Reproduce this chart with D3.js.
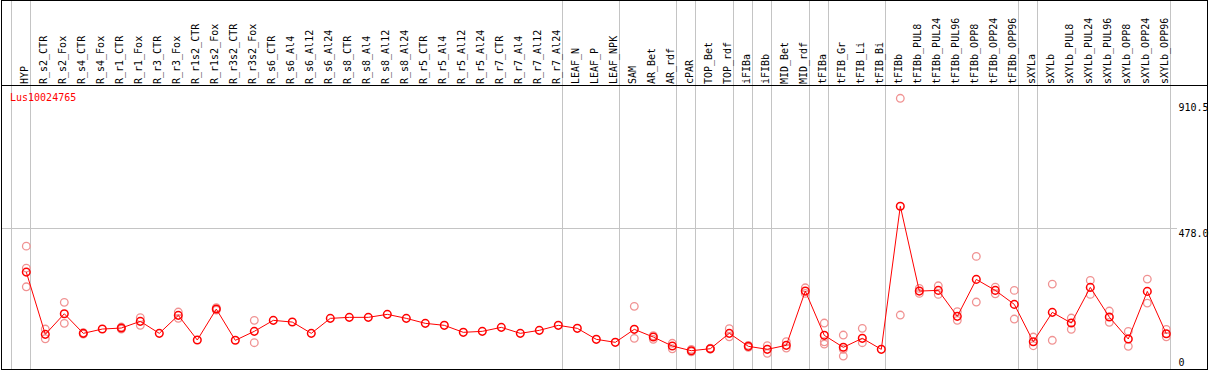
<!DOCTYPE html>
<html>
<head>
<meta charset="utf-8">
<script src="https://cdn.jsdelivr.net/npm/d3@7"></script>
<style>
  html, body { margin: 0; padding: 0; background: #fff; }
  svg { display: block; }
  text { font-family: "DejaVu Sans Mono", monospace; font-size: 10px; }
</style>
</head>
<body>
<svg id="chart" width="1209" height="370"></svg>
<script>
const geneName = "Lus10024765";

const categories = [
  "HYP","R_s2_CTR","R_s2_Fox","R_s4_CTR","R_s4_Fox","R_r1_CTR","R_r1_Fox","R_r3_CTR","R_r3_Fox",
  "R_r1s2_CTR","R_r1s2_Fox","R_r3s2_CTR","R_r3s2_Fox","R_s6_CTR","R_s6_Al4","R_s6_Al12","R_s6_Al24",
  "R_s8_CTR","R_s8_Al4","R_s8_Al12","R_s8_Al24","R_r5_CTR","R_r5_Al4","R_r5_Al12","R_r5_Al24",
  "R_r7_CTR","R_r7_Al4","R_r7_Al12","R_r7_Al24","LEAF_N","LEAF_P","LEAF_NPK","SAM","AR_Bet","AR_rdf",
  "cPAR","TOP_Bet","TOP_rdf","iFIBa","iFIBb","MID_Bet","MID_rdf","tFIBa","tFIB_Gr","tFIB_Li","tFIB_Bi",
  "tFIBb","tFIBb_PUL8","tFIBb_PUL24","tFIBb_PUL96","tFIBb_OPP8","tFIBb_OPP24","tFIBb_OPP96",
  "sXYLa","sXYLb","sXYLb_PUL8","sXYLb_PUL24","sXYLb_PUL96","sXYLb_OPP8","sXYLb_OPP24","sXYLb_OPP96"
];

// last category of each group (a grey separator follows it)
const groupEnds = ["HYP","R_r7_Al24","LEAF_NPK","AR_rdf","cPAR","TOP_rdf","iFIBa","iFIBb","MID_rdf",
  "tFIBa","tFIB_Bi","tFIBb_OPP96","sXYLa","sXYLb_OPP96"];

const means = [
  331.7,124.4,193.0,127.7,142.0,145.4,167.7,127.7,187.6,
  105.5,208.6,104.5,134.4,171.0,165.3,127.7,177.6,
  181.0,181.0,191.0,177.6,161.0,154.4,131.1,134.4,
  147.7,127.7,137.7,154.4,144.4,107.8,97.8,141.1,115.4,85.5,
  69.9,76.5,127.7,84.5,74.5,87.8,268.5,121.1,81.2,111.1,74.5,
  551.2,268.5,270.8,184.3,307.4,270.8,224.2,
  99.8,197.6,162.0,280.8,182.0,108.8,267.5,126.4
];

const replicates = [
  [418.2,345.0,282.8],[142.0,109.8],[230.9,161.0],[129.7,125.4],[],[148.7,142.0],[179.6,154.4],[],[198.6,177.6],
  [],[212.9,205.3],[],[171.0,96.5],[],[],[],[],
  [],[],[],[],[],[],[],[],
  [],[],[],[],[],[],[],[217.6,111.1],[119.8,107.8],[94.5,76.5],
  [74.5,66.5],[78.0,75.0],[143.1,116.4],[87.8,81.2],[86.5,61.2],[99.8,78.8],[279.4,260.8],[162.0,99.8,92.1],[122.1,74.5,52.2],[144.4,96.5],[],
  [910.5,188.6],[277.4,260.8],[286.1,257.5],[199.6,171.0],[383.9,231.9],[281.8,259.5],[270.8,175.3],
  [115.4,86.5],[291.8,104.5],[178.6,141.1],[304.1,257.5],[201.9,164.3],[134.4,84.5],[308.4,228.5],[141.1,116.4]
];

const tickValues = [0, 478.0, 910.5];
const gridValues = [478.0];

const svg = d3.select("#chart");
const W = 1209, H = 370;
const headerBottom = 85.5;

const x = d3.scaleBand().domain(categories).range([11.5, 11.5 + 19 * categories.length]);
const px = c => x(c) + 14.8;
const y = d3.scaleLinear().domain([0, 910.5]).range([371.7, 98.3]);

svg.append("rect").attr("width", W).attr("height", H).attr("fill", "#fff");

const grey = "#c4c4c4";

// vertical group separators
const seps = [x(categories[0])].concat(groupEnds.map(c => x(c) + x.bandwidth()));
svg.append("g").selectAll("line").data(seps).join("line")
  .attr("x1", d => d).attr("x2", d => d)
  .attr("y1", 0).attr("y2", H)
  .attr("stroke", grey).attr("stroke-width", 1);

// horizontal gridline
svg.append("g").selectAll("line").data(gridValues).join("line")
  .attr("x1", 1).attr("x2", 1177)
  .attr("y1", d => Math.round(y(d)) + 0.5).attr("y2", d => Math.round(y(d)) + 0.5)
  .attr("stroke", grey).attr("stroke-width", 1);

// header labels
svg.append("g").selectAll("text").data(categories).join("text")
  .attr("transform", c => `translate(${px(c) + 1.8},84) rotate(-90)`)
  .attr("text-anchor", "start")
  .attr("fill", "#000")
  .text(c => c);

// gene name
svg.append("text").attr("x", 10).attr("y", 100.5).attr("fill", "#ff0000").text(geneName);

// axis labels (right)
svg.append("g").selectAll("text").data(tickValues).join("text")
  .attr("x", 1178.5)
  .attr("y", d => Math.max(111.3, Math.min(365.5, y(d) + 8.5)))
  .attr("fill", "#000")
  .text(d => d === 0 ? "0" : d.toFixed(1));

// replicate points
const repPts = [];
categories.forEach((c, i) => replicates[i].forEach(v => repPts.push({c, v})));
svg.append("g").selectAll("circle").data(repPts).join("circle")
  .attr("cx", d => px(d.c)).attr("cy", d => y(d.v)).attr("r", 3.8)
  .attr("fill", "none").attr("stroke", "#f09292").attr("stroke-width", 1.3);

// mean line
const line = d3.line().x((d, i) => px(categories[i])).y(d => y(d));
svg.append("path").datum(means).attr("d", line)
  .attr("fill", "none").attr("stroke", "#ff0000").attr("stroke-width", 1);

// mean markers
svg.append("g").selectAll("circle").data(means).join("circle")
  .attr("cx", (d, i) => px(categories[i])).attr("cy", d => y(d)).attr("r", 3.8)
  .attr("fill", "none").attr("stroke", "#ff0000").attr("stroke-width", 1.5);

// frame and header line
const frame = svg.append("g").attr("stroke", "#000").attr("stroke-width", 1).attr("fill", "none");
frame.append("rect").attr("x", 1.5).attr("y", 0.5).attr("width", 1206).attr("height", 369);
frame.append("line").attr("x1", 1).attr("x2", 1208).attr("y1", headerBottom).attr("y2", headerBottom);
</script>
</body>
</html>
